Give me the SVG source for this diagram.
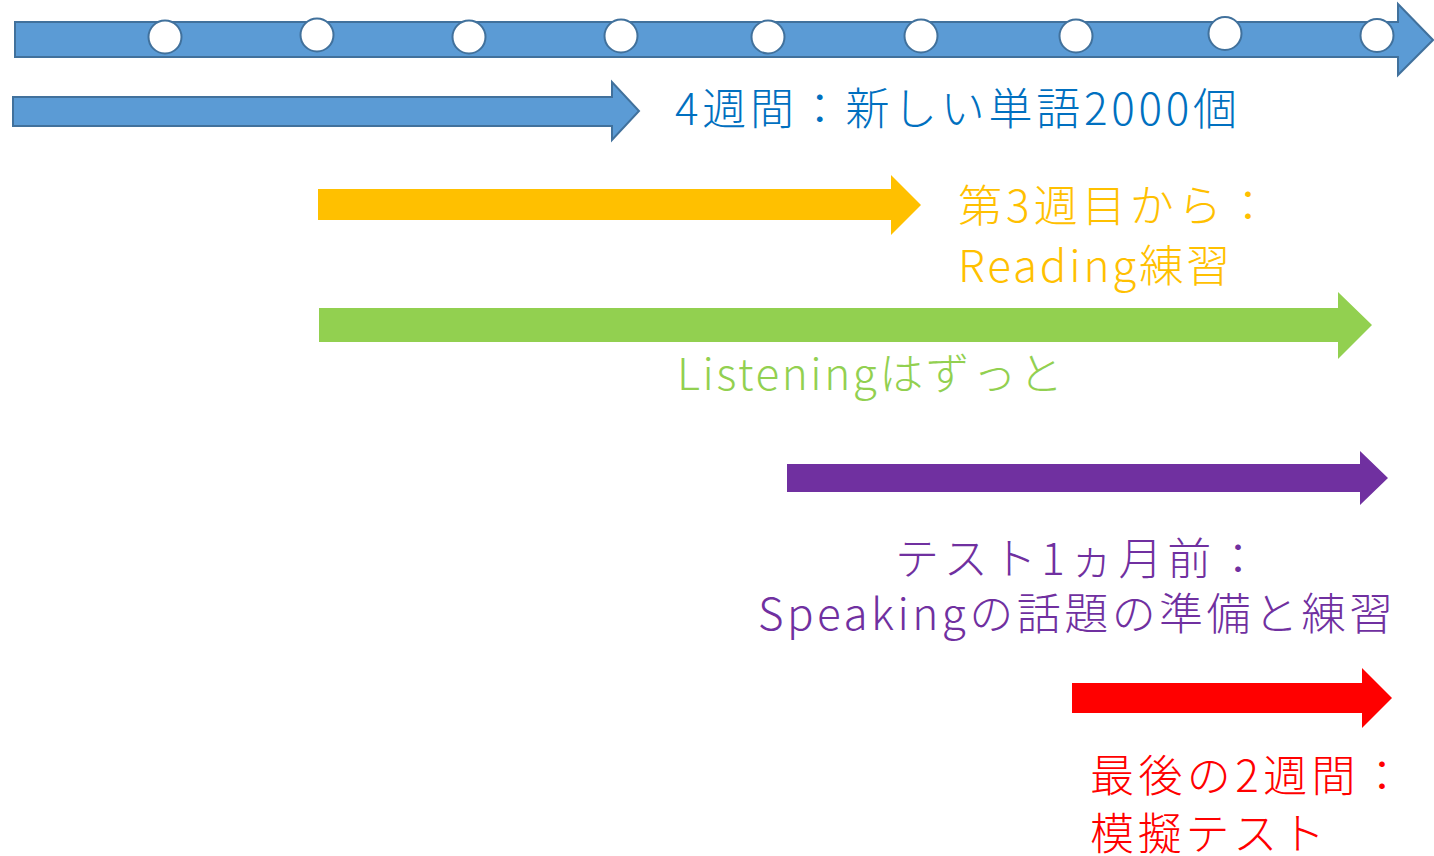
<svg xmlns="http://www.w3.org/2000/svg" width="1434" height="856" viewBox="0 0 1434 856">
<style>
text{font-family:"Noto Sans CJK JP","Noto Sans",sans-serif;font-size:44px;font-weight:300;}
.blueArrow{fill:#5B9BD5;stroke:#41719C;stroke-width:2;}
.dot{fill:#FFFFFF;stroke:#41719C;stroke-width:2;}
</style>
<rect width="1434" height="856" fill="#FFFFFF"/>
<g id="connectors">
<path id="timeline" class="blueArrow" d="M15,22 L1398,22 L1398,4 L1433,40 L1398,75 L1398,57 L15,57 Z"/>
<path id="vocabArrow" class="blueArrow" d="M13,97 L612,97 L612,82 L639,111 L612,140 L612,126 L13,126 Z"/>
<path id="readingArrow" fill="#FFC000" d="M318,189 L891,189 L891,175 L921,205 L891,235 L891,220 L318,220 Z"/>
<path id="listeningArrow" fill="#92D050" d="M319,308 L1338,308 L1338,292 L1372,325 L1338,359 L1338,342 L319,342 Z"/>
<path id="speakingArrow" fill="#7030A0" d="M787,464 L1360,464 L1360,451 L1388,478 L1360,505 L1360,492 L787,492 Z"/>
<path id="mockArrow" fill="#FF0000" d="M1072,683 L1362,683 L1362,668 L1392,698 L1362,728 L1362,713 L1072,713 Z"/>
</g>
<g id="milestones">
<circle class="dot" cx="165" cy="37" r="16.5"/>
<circle class="dot" cx="317" cy="35" r="16.5"/>
<circle class="dot" cx="469" cy="37" r="16.5"/>
<circle class="dot" cx="621" cy="36" r="16.5"/>
<circle class="dot" cx="768" cy="37" r="16.5"/>
<circle class="dot" cx="921" cy="36" r="16.5"/>
<circle class="dot" cx="1076" cy="36" r="16.5"/>
<circle class="dot" cx="1225" cy="33.5" r="16.5"/>
<circle class="dot" cx="1377" cy="35.5" r="16.5"/>
</g>
<g id="label-vocab">
<text x="675" y="125" fill="#0070C0" textLength="562" lengthAdjust="spacing">4週間：新しい単語2000個</text>
</g>
<g id="label-reading" fill="#FFC000">
<text x="958" y="222" textLength="312" lengthAdjust="spacing">第3週目から：</text>
<text x="958" y="282" textLength="272" lengthAdjust="spacing">Reading練習</text>
</g>
<g id="label-listening">
<text x="677" y="390" fill="#92D050" textLength="386" lengthAdjust="spacing">Listeningはずっと</text>
</g>
<g id="label-speaking" fill="#7030A0">
<text x="895" y="575" textLength="365" lengthAdjust="spacing">テスト1ヵ月前：</text>
<text x="758" y="630" textLength="635" lengthAdjust="spacing">Speakingの話題の準備と練習</text>
</g>
<g id="label-mock" fill="#FF0000">
<text x="1090" y="792" textLength="314" lengthAdjust="spacing">最後の2週間：</text>
<text x="1090" y="850" textLength="235" lengthAdjust="spacing">模擬テスト</text>
</g>
</svg>
